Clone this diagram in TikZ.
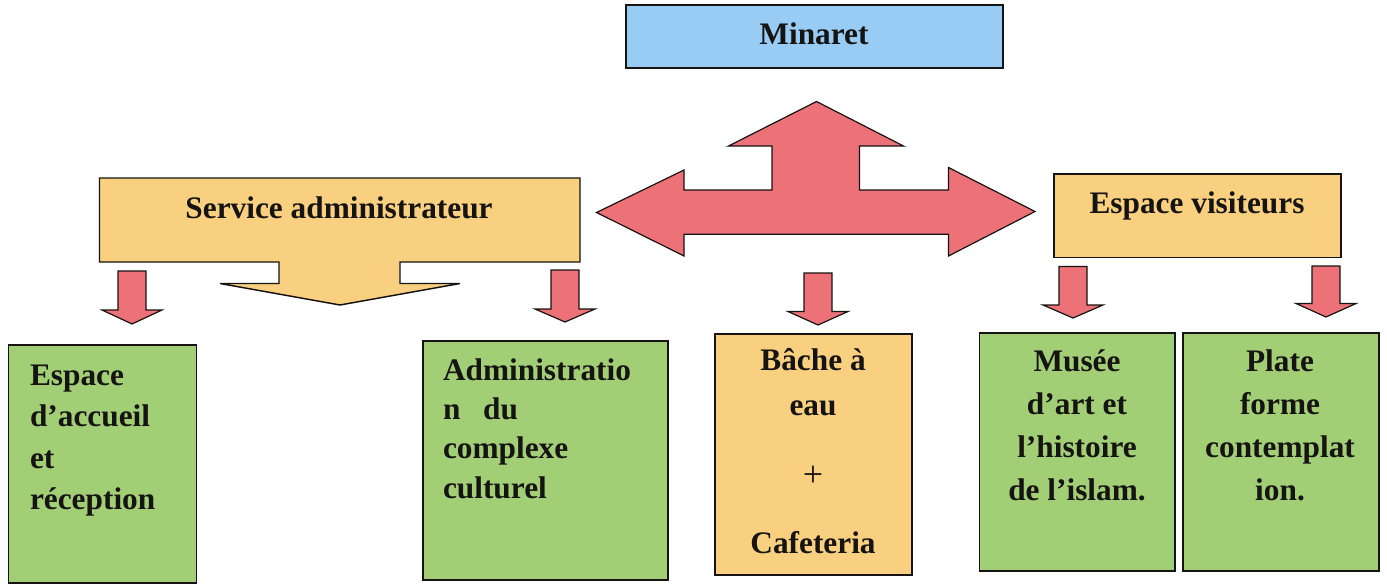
\documentclass[tikz,border=0pt]{standalone}
\usepackage{fontspec}
\setmainfont{Liberation Serif}
\definecolor{blueF}{RGB}{152,204,244}
\definecolor{orangeF}{RGB}{248,208,128}
\definecolor{greenF}{RGB}{162,206,118}
\definecolor{redF}{RGB}{236,114,120}
\definecolor{inkC}{RGB}{22,20,18}
\newcommand\lstk[2]{\vtop{\baselineskip=#1\relax\halign{##\hfil\cr#2\crcr}}}
\newcommand\cstk[2]{\vtop{\baselineskip=#1\relax\halign{\hfil##\hfil\cr#2\crcr}}}
\newcommand\boxat[6]{\node[#6, minimum width={(#4-#2)*0.75pt}, minimum height={(#5-#3)*0.75pt}, anchor=north west] (#1) at (#2,#3) {};}
\newcommand\smallarrow[4]{\draw[arrowshape] ({#1-14},#2) -- ({#1+14},#2) -- ({#1+14},#3) -- ({#1+30},#3) -- (#1,#4) -- ({#1-30},#3) -- ({#1-14},#3) -- cycle;}
\tikzset{
  boxshape/.style={draw=inkC, line width=1.1pt, inner sep=0pt, outer sep=0pt},
  arrowshape/.style={draw=inkC, line width=0.9pt, fill=redF, line join=miter},
  lbl/.style={inner sep=0pt, outer sep=0pt, text=inkC, font=\fontsize{23.5}{28}\bfseries\selectfont},
}
\begin{document}
\begin{tikzpicture}[x=0.75pt,y=-0.75pt]
\useasboundingbox (0,0) rectangle (1387,585);

% top box
\boxat{minaret}{626}{5}{1003}{68}{boxshape, fill=blueF}
\node[lbl, anchor=base] (tminaret) at (814,45) {Minaret};

% central three-way arrow
\draw[arrowshape] (816.5,101.5) -- (903.5,146) -- (859.5,146) -- (859.5,190) -- (948.5,190) -- (948.5,167.5)
  -- (1035,211.5) -- (948.5,256) -- (948.5,234.3) -- (684,234.3) -- (684,256) -- (596.5,212.5)
  -- (684,170) -- (684,190) -- (772,190) -- (772,146) -- (728.5,146) -- cycle;

% service administrateur (box with down arrow)
\draw[boxshape, fill=orangeF, line join=miter] (99.5,178) -- (580,178) -- (580,262) -- (400,262) -- (400,283.5)
  -- (460,283.5) -- (340,305) -- (220,283.5) -- (279,283.5) -- (279,262) -- (99.5,262) -- cycle;
\node[lbl, anchor=base] (tservice) at (339,218) {Service administrateur};

% espace visiteurs
\boxat{visit}{1054}{174}{1341}{257.5}{boxshape, fill=orangeF}
\node[lbl, anchor=base] (tvisit) at (1197,213) {Espace visiteurs};

% small down arrows
\smallarrow{132}{271}{310}{324}
\smallarrow{565}{270}{309}{322}
\smallarrow{818}{273}{311.5}{325}
\smallarrow{1073}{266.5}{305}{318}
\smallarrow{1326}{266}{303.5}{317}

% bottom boxes
\boxat{accueil}{8.5}{345}{196.5}{583}{boxshape, fill=greenF}
\node[lbl, anchor=base west] (taccueil) at (30,385) {\lstk{31.2pt}{Espace\cr d’accueil\cr et\cr réception}};

\boxat{admin}{423}{341}{668}{580}{boxshape, fill=greenF}
\node[lbl, anchor=base west] (tadmin) at (443,380) {\lstk{29.6pt}{Administratio\cr n\kern 17pt du\cr complexe\cr culturel}};

\boxat{bache}{715}{334}{912}{575}{boxshape, fill=orangeF}
\node[lbl, anchor=base] (tbache) at (813,370) {\cstk{33.8pt}{Bâche à\cr eau}};
\node[inner sep=0pt, text=inkC, font=\fontsize{27}{30}\selectfont] (tplus) at (813,476) {+};
\node[lbl, anchor=base] (tcafe) at (813,553) {Cafeteria};

\boxat{musee}{979.5}{333}{1175}{571}{boxshape, fill=greenF}
\node[lbl, anchor=base] (tmusee) at (1077,371.5) {\cstk{32.3pt}{Musée\cr d’art et\cr l’histoire\cr de l’islam.}};

\boxat{plate}{1183}{333}{1379}{571}{boxshape, fill=greenF}
\node[lbl, anchor=base] (tplate) at (1280,371.5) {\cstk{32.3pt}{Plate\cr forme\cr contemplat\cr ion.}};
\end{tikzpicture}
\end{document}
